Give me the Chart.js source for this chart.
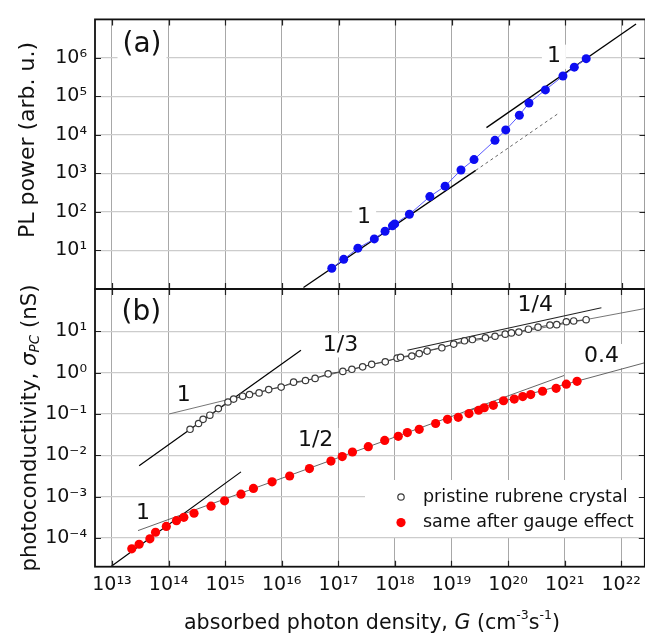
<!DOCTYPE html>
<html><head><meta charset="utf-8">
<script src="https://cdn.jsdelivr.net/npm/chart.js@4.4.0/dist/chart.umd.min.js"></script>
<style>
html,body{margin:0;padding:0;background:#fff;overflow:hidden;width:645px;height:640px}
.wrap{position:absolute;left:0;top:0;width:650px;height:640px}
</style></head><body>
<div class="wrap"><canvas id="cb" width="650" height="640"></canvas></div>
<div class="wrap"><canvas id="ca" width="650" height="640"></canvas></div>
<script>
// ---- tick exponents (powers of ten) ----
const xTickExps  = [13,14,15,16,17,18,19,20,21,22];
const plTickExps = [1,2,3,4,5,6];
const pcTickExps = [-4,-3,-2,-1,0,1];

// ---- panel (a): PL power, values as log10 ----
const plLogG     = [16.88,17.09,17.34,17.63,17.82,17.95,17.99,18.25,18.61,18.88,19.16,19.39,19.76,19.95,20.19,20.36,20.65,20.96,21.16,21.37];
const plLogPower = [0.54,0.77,1.06,1.30,1.50,1.64,1.69,1.94,2.40,2.67,3.09,3.36,3.86,4.13,4.51,4.83,5.17,5.53,5.76,5.98];

// ---- panel (b): photoconductivity (nS), log10 values ----
const pristineLogG  = [14.38,14.53,14.61,14.73,14.88,15.05,15.15,15.31,15.43,15.60,15.77,15.99,16.21,16.42,16.59,16.82,17.08,17.24,17.43,17.59,17.83,18.04,18.10,18.30,18.43,18.57,18.83,19.04,19.23,19.37,19.60,19.77,19.95,20.06,20.19,20.36,20.53,20.74,20.86,21.03,21.16,21.38];
const pristineLogPC = [-1.37,-1.23,-1.13,-1.03,-0.87,-0.71,-0.64,-0.57,-0.53,-0.49,-0.41,-0.35,-0.23,-0.19,-0.14,-0.03,0.03,0.08,0.14,0.20,0.26,0.35,0.37,0.40,0.46,0.52,0.60,0.69,0.77,0.80,0.84,0.88,0.93,0.96,0.98,1.05,1.10,1.15,1.16,1.23,1.25,1.28];
const gaugeLogG  = [13.35,13.48,13.67,13.77,13.96,14.14,14.27,14.45,14.75,14.99,15.28,15.50,15.83,16.14,16.49,16.87,17.07,17.25,17.53,17.82,18.06,18.22,18.43,18.72,18.93,19.12,19.31,19.48,19.58,19.74,19.92,20.11,20.26,20.40,20.61,20.85,21.03,21.22];
const gaugeLogPC = [-4.26,-4.15,-4.02,-3.86,-3.72,-3.58,-3.50,-3.40,-3.23,-3.10,-2.94,-2.80,-2.64,-2.50,-2.32,-2.14,-2.03,-1.92,-1.79,-1.64,-1.54,-1.45,-1.37,-1.23,-1.13,-1.08,-0.99,-0.91,-0.85,-0.79,-0.68,-0.64,-0.58,-0.53,-0.45,-0.38,-0.28,-0.21];

// ---- guide / fit lines [log10 G, log10 value] ----
const plFitLow     = [[16.38,0.04],[19.42,3.08]];
const plFitLowExt  = [[19.42,3.08],[20.90,4.58]];
const plFitHigh    = [[19.61,4.19],[22.25,6.88]];
const pcFitSteep   = [[13.48,-2.25],[16.34,0.54]];
const pcFitThird   = [[14.01,-1.00],[19.00,0.67]];
const pcFitQuarter = [[19.00,0.67],[22.42,1.55]];
const pcGuideQuarter = [[18.22,0.54],[21.65,1.57]];
const gaFitSteep   = [[12.99,-4.68],[15.28,-2.40]];
const gaFitHalf    = [[13.46,-3.82],[20.99,-0.07]];
const gaFit04      = [[19.30,-0.92],[22.42,0.24]];

// ---- annotation labels [text, log10 G, log10 y, size] ----
const plLabels = [["(a)",13.53,6.33,28],["1",17.45,1.87,22],["1",20.80,6.03,22]];
const pcLabels = [["(b)",13.52,1.44,28],["1",14.27,-0.55,22],["1/3",17.04,0.66,22],["1/4",20.48,1.63,22],["0.4",21.65,0.40,22],["1/2",16.60,-1.63,22],["1",13.55,-3.39,22]];
const seriesNames = ["pristine rubrene crystal","same after gauge effect"];

const X_RANGE = [12.70, 22.417];
const PL_RANGE = [0, 7.0];
const PC_RANGE = [-4.693, 2.022];

const FONT = '"DejaVu Sans", Verdana, sans-serif';
const SUP = {'0':'⁰','1':'¹','2':'²','3':'³','4':'⁴','5':'⁵','6':'⁶','7':'⁷','8':'⁸','9':'⁹','-':'⁻'};
const pow10Label = e => '10' + String(e).split('').map(c => SUP[c] || c).join('');
const pts = (xs, ys) => xs.map((v, i) => ({x: 10 ** v, y: 10 ** ys[i]}));
const seg = arr => arr.map(p => ({x: 10 ** p[0], y: 10 ** p[1]}));

function lineDs(data, color, width, dash) {
  return {data: seg(data), showLine: true, pointRadius: 0, borderColor: color, borderWidth: width,
          borderDash: dash || [], order: 2, tension: 0};
}

function xScale(showTicks, h) {
  return {type: 'logarithmic', position: 'bottom', min: 10 ** X_RANGE[0], max: 10 ** X_RANGE[1],
    afterBuildTicks: s => { s.ticks = xTickExps.map(e => ({value: 10 ** e})); },
    afterFit: s => { s.height = h; },
    grid: {color: '#a8a8a8', lineWidth: 1, drawTicks: false},
    border: {display: false},
    ticks: {display: showTicks, padding: 7, autoSkip: false, maxRotation: 0, color: '#111',
      font: {family: FONT, size: 19},
      callback: v => pow10Label(Math.round(Math.log10(v)))}
  };
}
function yScale(range, exps) {
  return {type: 'logarithmic', position: 'left', min: 10 ** range[0], max: 10 ** range[1],
    afterBuildTicks: s => { s.ticks = exps.map(e => ({value: 10 ** e})); },
    afterFit: s => { s.width = 95; },
    grid: {color: '#cccccc', lineWidth: 1.3, drawTicks: false},
    border: {display: false},
    ticks: {padding: 8, color: '#111', font: {family: FONT, size: 19},
      callback: v => pow10Label(Math.round(Math.log10(v)))}
  };
}

function richText(ctx, parts, cx, cy) {
  let total = 0;
  parts.forEach(p => { ctx.font = p.f; p.w = ctx.measureText(p.t).width; total += p.w; });
  let x = cx - total / 2;
  ctx.textAlign = 'left'; ctx.textBaseline = 'middle';
  parts.forEach(p => { ctx.font = p.f; ctx.fillText(p.t, x, cy + (p.dy || 0)); x += p.w; });
}

const decor = {
  id: 'decor',
  beforeDatasetsDraw(chart, args, opts) {
    const ctx = chart.ctx, xs = chart.scales.x, ys = chart.scales.y, a = chart.chartArea;
    ctx.save();
    (opts.labels || []).forEach(l => {
      ctx.font = l[3] + 'px ' + FONT;
      const px = xs.getPixelForValue(10 ** l[1]), py = ys.getPixelForValue(10 ** l[2]);
      const w = ctx.measureText(l[0]).width;
      ctx.fillStyle = '#fff';
      ctx.fillRect(px - w / 2 - 5, py - l[3] * 0.55, w + 10, l[3] * 1.1);
      ctx.fillStyle = '#111'; ctx.textAlign = 'center'; ctx.textBaseline = 'middle';
      ctx.fillText(l[0], px, py);
    });
    if (opts.legend) {
      const lx = a.left + 270, ly = a.top + 191;
      ctx.fillStyle = '#fff';
      ctx.fillRect(lx, ly, a.right - lx, 57);
      const ds = chart.data.datasets;
      [0, 1].forEach(i => {
        const y = ly + 17 + i * 25.6, mx = lx + 36;
        ctx.beginPath(); ctx.arc(mx, y, ds[i].pointRadius, 0, Math.PI * 2);
        ctx.fillStyle = ds[i].pointBackgroundColor; ctx.fill();
        if (ds[i].pointBorderWidth) { ctx.lineWidth = ds[i].pointBorderWidth; ctx.strokeStyle = ds[i].pointBorderColor; ctx.stroke(); }
        ctx.fillStyle = '#111'; ctx.font = '17.5px ' + FONT; ctx.textAlign = 'left'; ctx.textBaseline = 'middle';
        ctx.fillText(ds[i].label, lx + 58, y);
      });
    }
    ctx.restore();
  },
  afterDraw(chart, args, opts) {
    const ctx = chart.ctx, a = chart.chartArea, xs = chart.scales.x, ys = chart.scales.y;
    ctx.save();
    ctx.strokeStyle = '#222'; ctx.lineWidth = 1.2;
    ctx.beginPath();
    xs.ticks.forEach(t => { const p = Math.round(xs.getPixelForValue(t.value)) + 0.5;
      ctx.moveTo(p, a.top); ctx.lineTo(p, a.top + 6); ctx.moveTo(p, a.bottom); ctx.lineTo(p, a.bottom - 6); });
    ys.ticks.forEach(t => { const p = Math.round(ys.getPixelForValue(t.value)) + 0.5;
      ctx.moveTo(a.left, p); ctx.lineTo(a.left + 6, p); ctx.moveTo(a.right, p); ctx.lineTo(a.right - 6, p); });
    ctx.stroke();
    ctx.strokeStyle = '#111'; ctx.lineWidth = 1.8;
    ctx.strokeRect(a.left, a.top, a.right - a.left, a.bottom - a.top);
    ctx.fillStyle = '#111';
    (opts.titles || []).forEach(t => {
      ctx.save(); ctx.translate(t.x, t.y); if (t.rot) ctx.rotate(-Math.PI / 2);
      richText(ctx, t.parts, 0, 0); ctx.restore();
    });
    ctx.restore();
  }
};

const F22 = '22px ' + FONT;
const FB = '21.3px ' + FONT, IB = 'italic 21.3px ' + FONT;
const FX = '20.6px ' + FONT, IX = 'italic 20.6px ' + FONT;

new Chart(document.getElementById('ca'), {
  type: 'scatter',
  data: {datasets: [
    {label: 'PL power', data: pts(plLogG, plLogPower), showLine: true, borderColor: '#5a5aff', borderWidth: 1,
     pointRadius: 4.5, pointBackgroundColor: '#0d0df2', pointBorderWidth: 0, order: 0},
    lineDs(plFitLow, '#000', 1.3),
    lineDs(plFitLowExt, '#666', 1, [3, 3]),
    lineDs(plFitHigh, '#000', 1.3)
  ]},
  options: {
    responsive: false, animation: false, devicePixelRatio: 1,
    layout: {padding: {left: 0, right: 3, top: 11, bottom: 351}},
    scales: {x: xScale(false, 0), y: yScale(PL_RANGE, plTickExps)},
    plugins: {legend: {display: false}, tooltip: {enabled: false},
      decor: {labels: plLabels,
        titles: [{x: 28, y: 140, rot: true, parts: [{t: 'PL power (arb. u.)', f: F22}]}]}}
  },
  plugins: [decor]
});

new Chart(document.getElementById('cb'), {
  type: 'scatter',
  data: {datasets: [
    {label: seriesNames[0], data: pts(pristineLogG, pristineLogPC), showLine: true, borderColor: '#444', borderWidth: 1,
     pointRadius: 3.2, pointBackgroundColor: '#fff', pointBorderColor: '#3a3a3a', pointBorderWidth: 1.2, order: 0},
    {label: seriesNames[1], data: pts(gaugeLogG, gaugeLogPC), showLine: false,
     pointRadius: 4.6, pointBackgroundColor: '#ff0000', pointBorderWidth: 0, order: 0},
    lineDs(pcFitSteep, '#000', 1.2),
    lineDs(pcFitThird, '#666', 0.9),
    lineDs(pcFitQuarter, '#666', 0.9),
    lineDs(pcGuideQuarter, '#222', 1.1),
    lineDs(gaFitSteep, '#000', 1.2),
    lineDs(gaFitHalf, '#555', 0.9),
    lineDs(gaFit04, '#555', 0.9)
  ]},
  options: {
    responsive: false, animation: false, devicePixelRatio: 1,
    layout: {padding: {left: 0, right: 3, top: 289, bottom: 0}},
    scales: {x: xScale(true, 73.3), y: yScale(PC_RANGE, pcTickExps)},
    plugins: {legend: {display: false}, tooltip: {enabled: false},
      decor: {labels: pcLabels, legend: true,
        titles: [
          {x: 30, y: 428, rot: true, parts: [
            {t: 'photoconductivity, ', f: FB}, {t: 'σ', f: IB},
            {t: 'PC', f: 'italic 13.5px ' + FONT, dy: 5}, {t: ' (nS)', f: FB}]},
          {x: 372, y: 624, rot: false, parts: [
            {t: 'absorbed photon density, ', f: FX}, {t: 'G', f: IX}, {t: ' (cm', f: FX},
            {t: '-3', f: '12.5px ' + FONT, dy: -8}, {t: 's', f: FX},
            {t: '-1', f: '12.5px ' + FONT, dy: -8}, {t: ')', f: FX}]}
        ]}}
  },
  plugins: [decor]
});
</script>
</body></html>
